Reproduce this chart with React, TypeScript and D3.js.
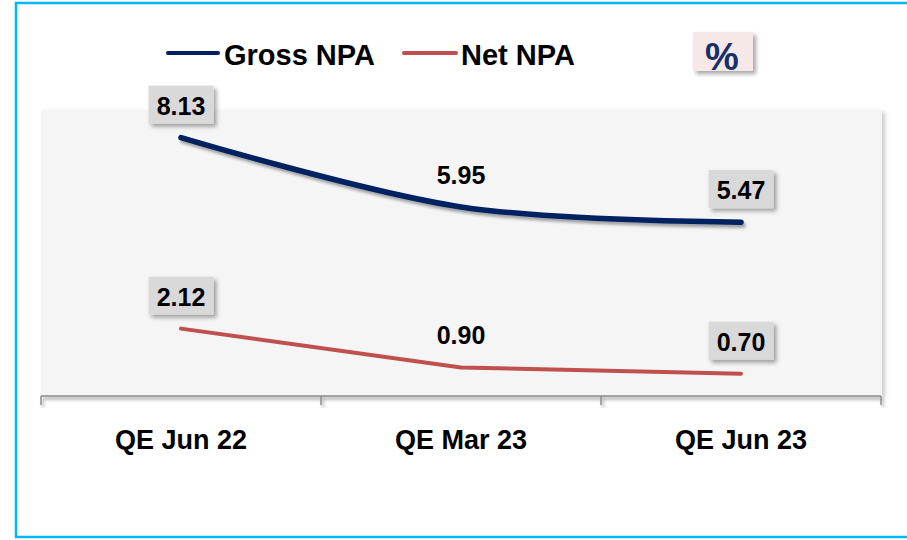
import React from "react";
import * as d3 from "d3";

const categories = ["QE Jun 22", "QE Mar 23", "QE Jun 23"];
const grossNPA = [8.13, 5.95, 5.47];
const netNPA = [2.12, 0.9, 0.7];
const seriesNames = ["Gross NPA", "Net NPA"];
const unitLabel = "%";
const boxedIdx = [0, 2];

const W = 907;
const H = 540;
const FONT = "'Liberation Sans', Arial, sans-serif";
const GROSS_COLOR = "#002060";
const NET_COLOR = "#C0504D";

export default function App() {
  const x = d3.scaleBand<string>().domain(categories).range([41, 881]);
  const y = d3.scaleLinear().domain([0, 9]).range([396, 110]);
  const cx = (c: string) => (x(c) as number) + x.bandwidth() / 2;

  const grossLine = d3
    .line<number>()
    .x((_, i) => cx(categories[i]))
    .y((d) => y(d))
    .curve(d3.curveCardinal.tension(0));
  const netLine = d3
    .line<number>()
    .x((_, i) => cx(categories[i]))
    .y((d) => y(d))
    .curve(d3.curveLinear);

  const fmt = d3.format(".2f");
  const tickXs = [...categories.map((c) => x(c) as number), 881];

  const labels = (vals: number[], key: string) =>
    vals.map((v, i) => {
      const px = cx(categories[i]);
      const base = y(v) - 23;
      const txt = fmt(v);
      const boxed = boxedIdx.includes(i);
      return (
        <g key={key + i}>
          {boxed && (
            <rect
              x={px - 32.5}
              y={base - 29}
              width={65}
              height={38}
              fill="#D9D9D9"
              filter="url(#boxShadow)"
            />
          )}
          <text
            x={px}
            y={base}
            textAnchor="middle"
            fontFamily={FONT}
            fontWeight="bold"
            fontSize={25}
            fill="#000"
          >
            {txt}
          </text>
        </g>
      );
    });

  return (
    <svg
      width={W}
      height={H}
      style={{ position: "absolute", left: 0, top: 0, background: "#fff" }}
    >
      <defs>
        <filter id="boxShadow" x="-30%" y="-30%" width="160%" height="160%">
          <feDropShadow dx="3" dy="3" stdDeviation="2" floodColor="#000" floodOpacity="0.35" />
        </filter>
        <filter id="lineShadow" x="-10%" y="-30%" width="120%" height="160%">
          <feDropShadow dx="2" dy="3" stdDeviation="1.8" floodColor="#000" floodOpacity="0.35" />
        </filter>
        <filter id="plotShadow" x="-5%" y="-5%" width="110%" height="110%">
          <feDropShadow dx="3" dy="2" stdDeviation="2" floodColor="#000" floodOpacity="0.2" />
        </filter>
      </defs>

      {/* outer border */}
      <rect x={16} y={3} width={905} height={534} fill="none" stroke="#00B8F2" strokeWidth={2.5} />

      {/* plot area */}
      <rect
        x={41}
        y={110}
        width={841}
        height={286}
        fill="#F5F5F5"
        filter="url(#plotShadow)"
      />

      {/* axis */}
      <g filter="url(#lineShadow)">
        <line x1={41} x2={881} y1={396} y2={396} stroke="#8C8C8C" strokeWidth={1.5} />
        {tickXs.map((t, i) => (
          <line key={i} x1={t} x2={t} y1={396} y2={405} stroke="#8C8C8C" strokeWidth={1.5} />
        ))}
      </g>

      {categories.map((c) => (
        <text
          key={c}
          x={cx(c)}
          y={449}
          textAnchor="middle"
          fontFamily={FONT}
          fontWeight="bold"
          fontSize={27}
          fill="#000"
        >
          {c}
        </text>
      ))}

      {/* lines */}
      <path
        d={grossLine(grossNPA) || ""}
        fill="none"
        stroke={GROSS_COLOR}
        strokeWidth={5.5}
        strokeLinecap="round"
        filter="url(#lineShadow)"
      />
      <path
        d={netLine(netNPA) || ""}
        fill="none"
        stroke={NET_COLOR}
        strokeWidth={4}
        strokeLinecap="round"
        strokeLinejoin="round"
      />

      {labels(grossNPA, "g")}
      {labels(netNPA, "n")}

      {/* legend */}
      <line x1={168} x2={218} y1={53} y2={53} stroke={GROSS_COLOR} strokeWidth={4} strokeLinecap="round" />
      <text x={224} y={64.5} fontFamily={FONT} fontWeight="bold" fontSize={29} fill="#000">
        {seriesNames[0]}
      </text>
      <line x1={404} x2={456} y1={53} y2={53} stroke={NET_COLOR} strokeWidth={4} strokeLinecap="round" />
      <text x={461} y={64.5} fontFamily={FONT} fontWeight="bold" fontSize={29} fill="#000">
        {seriesNames[1]}
      </text>

      {/* unit box */}
      <rect x={693} y={32} width={60} height={39} fill="#F7E8E8" filter="url(#boxShadow)" />
      <text
        x={722}
        y={70}
        textAnchor="middle"
        fontFamily={FONT}
        fontWeight="bold"
        fontSize={38}
        fill="#17306A"
      >
        {unitLabel}
      </text>
    </svg>
  );
}
